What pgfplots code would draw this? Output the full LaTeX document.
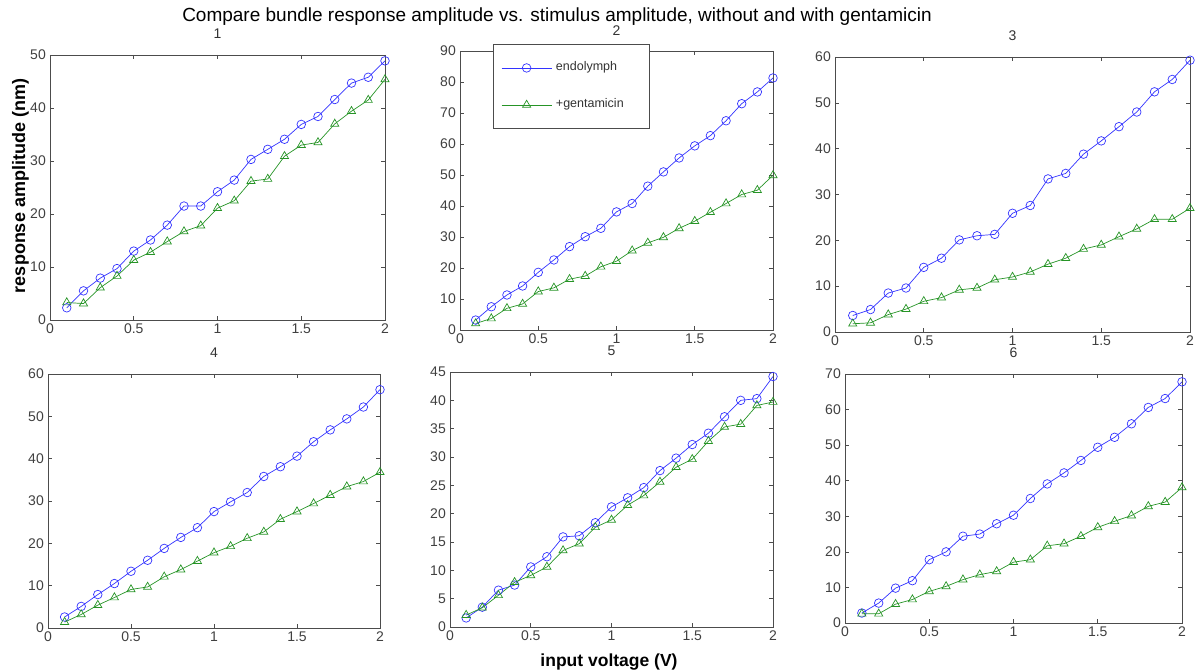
\documentclass[border=0pt]{standalone}
\usepackage{fontspec}
\setmainfont{Liberation Sans}
\usepackage{pgfplots}
\pgfplotsset{compat=1.18}
\definecolor{mblue}{rgb}{0.2,0.2,1}
\definecolor{mgreen}{rgb}{0.15,0.58,0.15}
\definecolor{axgray}{gray}{0.3}
\pgfplotsset{
  panel/.style={
    scale only axis,
    xmin=0, xmax=2, ymin=0,
    xtick={0,0.5,1,1.5,2},
    tick align=inside,
    major tick length=4pt,
    axis line style={axgray, line width=0.8pt},
    every tick/.style={axgray, line width=0.6pt},
    tick label style={font=\fontsize{14}{16}\selectfont, text=black!75},
    /pgf/number format/assume math mode=true,
    xticklabel style={inner sep=0pt, yshift=-3.5pt},
    yticklabel style={inner sep=0pt, xshift=-4pt},
    title style={at={(0.5,1)}, anchor=base, yshift=10.5pt, inner sep=0pt, font=\fontsize{14}{16}\selectfont, text=black!80},
  },
  blueline/.style={mblue, line width=0.7pt, mark=o, mark size=4.3pt, mark options={solid}},
  greenline/.style={mgreen, line width=0.7pt, mark=triangle, mark size=4.7pt, mark options={solid}},
}
\begin{document}
\begin{tikzpicture}
\useasboundingbox (0,0) rectangle (1195pt,670pt);
\clip (0,0) rectangle (1195pt,670pt);
% ---------------- panel 1
\begin{axis}[panel, at={(50pt,350pt)}, width=335pt, height=265pt, ymax=50, ytick={0,10,...,50}, title={1}]
\addplot[blueline] coordinates {(0.1,2.3)(0.2,5.5)(0.3,7.9)(0.4,9.7)(0.5,13.0)(0.6,15.1)(0.7,17.9)(0.8,21.5)(0.9,21.5)(1.0,24.2)(1.1,26.4)(1.2,30.3)(1.3,32.2)(1.4,34.1)(1.5,36.9)(1.6,38.4)(1.7,41.6)(1.8,44.7)(1.9,45.8)(2.0,48.9)};
\addplot[greenline] coordinates {(0.1,3.3)(0.2,3.1)(0.3,6.1)(0.4,8.3)(0.5,11.3)(0.6,12.8)(0.7,14.8)(0.8,16.7)(0.9,17.8)(1.0,21.1)(1.1,22.5)(1.2,26.2)(1.3,26.6)(1.4,30.9)(1.5,33.0)(1.6,33.5)(1.7,37.0)(1.8,39.4)(1.9,41.5)(2.0,45.4)};
\end{axis}
% ---------------- panel 2
\begin{axis}[panel, at={(460pt,340pt)}, width=313pt, height=279pt, ymax=90, ytick={0,10,...,90}, title={2},
  title style={yshift=-1pt},
  legend style={at={(0.105,1.025)}, anchor=north west, draw=axgray, line width=0.8pt, fill=white,
    inner xsep=8pt, inner ysep=17.5pt, row sep=25pt, column sep=4pt,
    font=\fontsize{12.5}{14}\selectfont, text=black!80,
    nodes={inner sep=0pt, text height=9pt, text depth=3pt, text width=85pt, anchor=west}},
  legend cell align=left,
  legend image code/.code={\draw[mark repeat=2,mark phase=2,#1] plot coordinates {(0pt,0pt) (25pt,0pt) (50pt,0pt)};}]
\addplot[blueline] coordinates {(0.1,3.2)(0.2,7.5)(0.3,11.3)(0.4,14.2)(0.5,18.6)(0.6,22.6)(0.7,26.9)(0.8,30.1)(0.9,32.8)(1.0,38.1)(1.1,40.8)(1.2,46.4)(1.3,51.0)(1.4,55.5)(1.5,59.4)(1.6,62.7)(1.7,67.5)(1.8,73.0)(1.9,76.8)(2.0,81.3)};
\addlegendentry{endolymph}
\addplot[greenline] coordinates {(0.1,2.1)(0.2,3.7)(0.3,7.0)(0.4,8.4)(0.5,12.4)(0.6,13.6)(0.7,16.4)(0.8,17.4)(0.9,20.4)(1.0,22.2)(1.1,25.6)(1.2,28.1)(1.3,29.9)(1.4,32.8)(1.5,35.1)(1.6,38.0)(1.7,40.8)(1.8,43.7)(1.9,45.1)(2.0,49.9)};
\addlegendentry{+gentamicin}
\end{axis}
% ---------------- panel 3
\begin{axis}[panel, at={(835pt,338pt)}, width=355pt, height=275pt, ymax=60, ytick={0,10,...,60}, title={3}]
\addplot[blueline] coordinates {(0.1,3.6)(0.2,4.9)(0.3,8.5)(0.4,9.6)(0.5,14.1)(0.6,16.1)(0.7,20.1)(0.8,21.0)(0.9,21.3)(1.0,25.9)(1.1,27.6)(1.2,33.4)(1.3,34.6)(1.4,38.8)(1.5,41.7)(1.6,44.8)(1.7,48.0)(1.8,52.4)(1.9,55.1)(2.0,59.3)};
\addplot[greenline] coordinates {(0.1,1.8)(0.2,2.0)(0.3,3.8)(0.4,5.0)(0.5,6.7)(0.6,7.5)(0.7,9.2)(0.8,9.6)(0.9,11.4)(1.0,12.0)(1.1,13.1)(1.2,14.8)(1.3,16.1)(1.4,18.1)(1.5,19.0)(1.6,20.8)(1.7,22.5)(1.8,24.6)(1.9,24.6)(2.0,27.0)};
\end{axis}
% ---------------- panel 4
\begin{axis}[panel, at={(48pt,42pt)}, width=332pt, height=254pt, ymax=60, ytick={0,10,...,60}, title={4}]
\addplot[blueline] coordinates {(0.1,2.6)(0.2,5.1)(0.3,7.9)(0.4,10.5)(0.5,13.4)(0.6,16.0)(0.7,18.8)(0.8,21.4)(0.9,23.7)(1.0,27.5)(1.1,29.8)(1.2,32.0)(1.3,35.8)(1.4,38.1)(1.5,40.6)(1.6,44.0)(1.7,46.8)(1.8,49.4)(1.9,52.2)(2.0,56.3)};
\addplot[greenline] coordinates {(0.1,1.4)(0.2,3.2)(0.3,5.4)(0.4,7.2)(0.5,9.1)(0.6,9.7)(0.7,12.1)(0.8,13.8)(0.9,15.8)(1.0,17.8)(1.1,19.3)(1.2,21.2)(1.3,22.7)(1.4,25.7)(1.5,27.5)(1.6,29.4)(1.7,31.4)(1.8,33.4)(1.9,34.6)(2.0,36.8)};
\end{axis}
% ---------------- panel 5
\begin{axis}[panel, at={(450pt,43pt)}, width=323pt, height=255pt, ymax=45, ytick={0,5,...,45}, title={5}]
\addplot[blueline] coordinates {(0.1,1.6)(0.2,3.5)(0.3,6.5)(0.4,7.4)(0.5,10.6)(0.6,12.4)(0.7,15.9)(0.8,16.1)(0.9,18.4)(1.0,21.2)(1.1,22.8)(1.2,24.6)(1.3,27.6)(1.4,29.8)(1.5,32.2)(1.6,34.2)(1.7,37.1)(1.8,40.0)(1.9,40.3)(2.0,44.2)};
\addplot[greenline] coordinates {(0.1,2.1)(0.2,3.4)(0.3,5.6)(0.4,7.9)(0.5,9.1)(0.6,10.6)(0.7,13.5)(0.8,14.7)(0.9,17.6)(1.0,18.9)(1.1,21.5)(1.2,23.2)(1.3,25.6)(1.4,28.2)(1.5,29.6)(1.6,32.8)(1.7,35.3)(1.8,35.8)(1.9,39.1)(2.0,39.7)};
\end{axis}
% ---------------- panel 6
\begin{axis}[panel, at={(845pt,47pt)}, width=337pt, height=249pt, ymax=70, ytick={0,10,...,70}, title={6}]
\addplot[blueline] coordinates {(0.1,2.8)(0.2,5.6)(0.3,9.8)(0.4,11.9)(0.5,17.8)(0.6,20.0)(0.7,24.4)(0.8,25.0)(0.9,27.9)(1.0,30.3)(1.1,35.0)(1.2,39.1)(1.3,42.2)(1.4,45.7)(1.5,49.4)(1.6,52.2)(1.7,56.0)(1.8,60.6)(1.9,63.1)(2.0,67.8)};
\addplot[greenline] coordinates {(0.1,2.6)(0.2,2.6)(0.3,5.3)(0.4,6.6)(0.5,8.9)(0.6,10.3)(0.7,12.2)(0.8,13.6)(0.9,14.5)(1.0,17.1)(1.1,17.8)(1.2,21.7)(1.3,22.3)(1.4,24.4)(1.5,26.9)(1.6,28.6)(1.7,30.2)(1.8,32.8)(1.9,34.0)(2.0,38.1)};
\end{axis}
% ---------------- labels
\node[anchor=base, inner sep=0pt, font=\fontsize{19}{22}\selectfont] at (557pt,648pt) {Compare bundle response amplitude vs. stimulus amplitude, without and with gentamicin};
\node[rotate=90, anchor=base, inner sep=0pt, font=\bfseries\fontsize{18}{20}\selectfont] at (25pt,484pt) {response amplitude (nm)};
\node[anchor=base, inner sep=0pt, font=\bfseries\fontsize{17.5}{20}\selectfont] at (609pt,4pt) {input voltage (V)};
\end{tikzpicture}
\end{document}
